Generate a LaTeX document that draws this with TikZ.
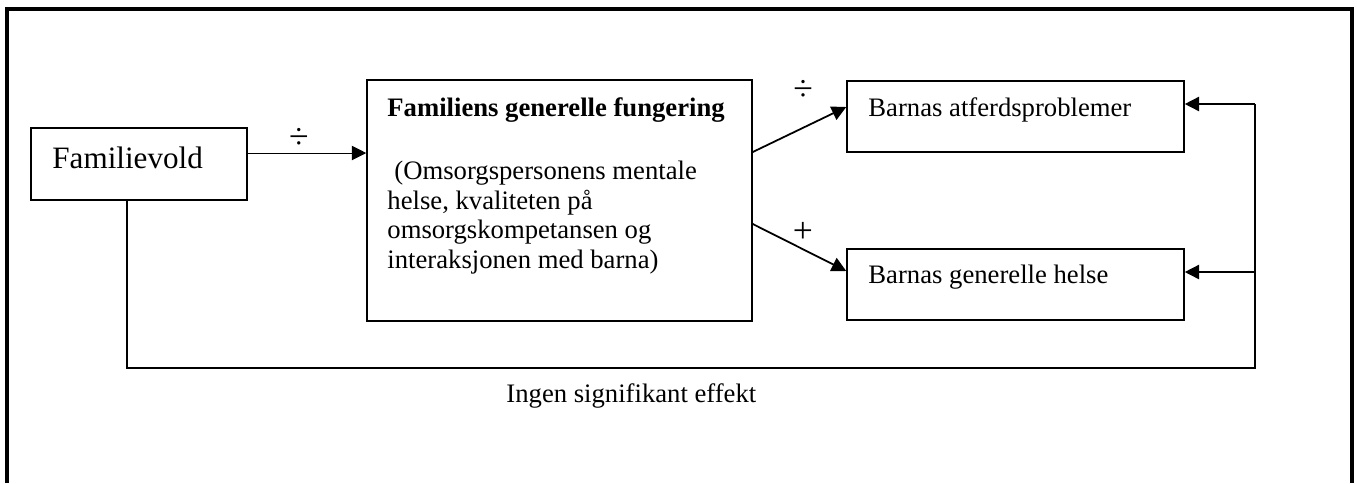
\documentclass[tikz,border=0pt]{standalone}
\usepackage{fontspec}
\setmainfont{Liberation Serif}
\usetikzlibrary{arrows.meta,fit}
\begin{document}
\begin{tikzpicture}[x=0.45pt,y=-0.45pt,
  box/.style={draw,line width=0.7pt,inner sep=0pt,rectangle},
  txt/.style={inner sep=0pt,anchor=base west,font=\fontsize{12}{14}\selectfont},
  lbl/.style={inner sep=0pt,font=\fontsize{16}{18}\selectfont},
  conn/.style={line width=0.7pt},
  arr/.style={line width=0.8pt,-{Triangle[length=6.5pt,width=6.5pt]}},
  thinarr/.style={line width=0.45pt,-{Triangle[length=6.5pt,width=6.5pt]}},
  frame/.style={line width=1.4pt}]
\useasboundingbox (0,0) rectangle (1357,483);
\fill[white] (0,0) rectangle (1357,483);
% outer frame (open at the bottom)
\draw[frame] (7,483) -- (7,9) -- (1352,9) -- (1352,483);
% boxes
\node[box,fit={(31,128)(247,200)}] (fv) {};
\node[box,fit={(367,80)(752,321)}] (fc) {};
\node[box,fit={(847,81)(1184,152)}] (ba) {};
\node[box,fit={(847,249)(1184,320)}] (bh) {};
% texts
\node[txt,font=\fontsize{14}{16}\selectfont] (fvt) at (52,168) {Familievold};
\node[txt,font=\fontsize{12}{14}\selectfont\bfseries] (fct1) at (387,116) {Familiens generelle fungering};
\node[txt] (fct2) at (394,179) {(Omsorgspersonens mentale};
\node[txt] (fct3) at (387,209) {helse, kvaliteten på};
\node[txt] (fct4) at (387,238) {omsorgskompetansen og};
\node[txt] (fct5) at (387,268) {interaksjonen med barna)};
\node[txt] (bat) at (868,116) {Barnas atferdsproblemer};
\node[txt] (bht) at (868,283) {Barnas generelle helse};
\node[txt] (ingen) at (506,402) {Ingen signifikant effekt};
% connectors
\draw[thinarr] (fv.east |- 0,153) -- (fc.west |- 0,153);
\node[lbl] (l1) at (299,138) {÷};
\draw[arr] (fc.east |- 0,152) -- (ba.west |- 0,107);
\node[lbl] (l2) at (803,90) {÷};
\draw[arr] (fc.east |- 0,224) -- (bh.west |- 0,271);
\node[lbl] (l3) at (803,232) {+};
% feedback loop
\coordinate (c1) at (127,368);
\coordinate (c2) at (1255,368);
\coordinate (c3) at (1255,104);
\coordinate (c4) at (1255,272);
\draw[conn] (fv.south -| c1) -- (c1) -- (c2) -- (c3);
\draw[conn,-{Triangle[length=6.5pt,width=6.5pt]}] (c3) -- (ba.east |- c3);
\draw[conn,-{Triangle[length=6.5pt,width=6.5pt]}] (c4) -- (bh.east |- c4);
\end{tikzpicture}
\end{document}
